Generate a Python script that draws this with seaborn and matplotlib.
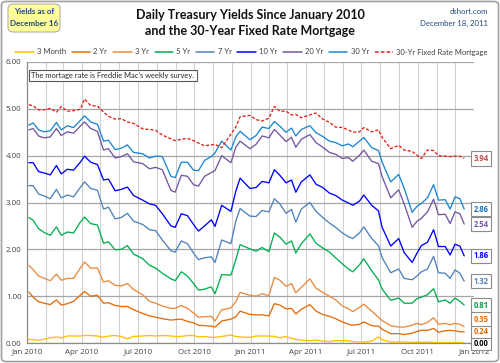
import numpy as np
import pandas as pd
import matplotlib
matplotlib.use("Agg")
import matplotlib.pyplot as plt
import matplotlib.dates as mdates
from matplotlib.patches import FancyBboxPatch
import seaborn as sns

# ---------------- data ----------------
dates = [
    "2010-01-04", "2010-01-11", "2010-01-20", "2010-01-29", "2010-02-08", "2010-02-18", "2010-02-26",
    "2010-03-08", "2010-03-18", "2010-03-29", "2010-04-05", "2010-04-15", "2010-04-26", "2010-05-06",
    "2010-05-14", "2010-05-25", "2010-06-04", "2010-06-14", "2010-06-24", "2010-07-09", "2010-07-20",
    "2010-07-30", "2010-08-10", "2010-08-24", "2010-08-31", "2010-09-10", "2010-09-20", "2010-09-30",
    "2010-10-08", "2010-10-18", "2010-10-29", "2010-11-04", "2010-11-15", "2010-11-30", "2010-12-08",
    "2010-12-15", "2010-12-31",
    "2011-01-10", "2011-01-20", "2011-01-31", "2011-02-09", "2011-02-18", "2011-02-28", "2011-03-09",
    "2011-03-16", "2011-03-25", "2011-04-08", "2011-04-18", "2011-04-29", "2011-05-10", "2011-05-20",
    "2011-05-31", "2011-06-10", "2011-06-17", "2011-06-28", "2011-07-05", "2011-07-18", "2011-07-29",
    "2011-08-04", "2011-08-18", "2011-08-31", "2011-09-09", "2011-09-22", "2011-09-30", "2011-10-07",
    "2011-10-17", "2011-10-27", "2011-11-04", "2011-11-15", "2011-11-23", "2011-12-01", "2011-12-09",
    "2011-12-16",
]

m3 = [0.08, 0.07, 0.06, 0.08, 0.11, 0.13, 0.11, 0.15, 0.15, 0.15, 0.16, 0.16, 0.15, 0.12, 0.15, 0.16,
      0.14, 0.09, 0.14, 0.15, 0.16, 0.15, 0.16, 0.15, 0.14, 0.14, 0.16, 0.16, 0.13, 0.14, 0.12, 0.12,
      0.14, 0.17, 0.14, 0.13, 0.12, 0.15, 0.15, 0.15, 0.14, 0.11, 0.14, 0.10, 0.08, 0.06, 0.05, 0.06,
      0.04, 0.03, 0.05, 0.05, 0.05, 0.03, 0.02, 0.02, 0.04, 0.13, 0.07, 0.02, 0.02, 0.02, 0.01, 0.02,
      0.01, 0.02, 0.01, 0.01, 0.01, 0.01, 0.01, 0.01, 0.00]
y2 = [1.09, 0.98, 0.88, 0.85, 0.82, 0.92, 0.81, 0.84, 0.89, 1.02, 1.10, 1.00, 1.02, 0.85, 0.86, 0.80,
      0.78, 0.78, 0.71, 0.63, 0.58, 0.55, 0.52, 0.49, 0.50, 0.51, 0.46, 0.43, 0.38, 0.37, 0.36, 0.34,
      0.47, 0.51, 0.56, 0.68, 0.61, 0.60, 0.60, 0.58, 0.84, 0.81, 0.73, 0.74, 0.62, 0.72, 0.82, 0.68,
      0.61, 0.57, 0.52, 0.45, 0.40, 0.38, 0.40, 0.45, 0.37, 0.36, 0.29, 0.20, 0.20, 0.18, 0.21, 0.25,
      0.27, 0.27, 0.31, 0.23, 0.26, 0.27, 0.26, 0.24, 0.24]
y3 = [1.66, 1.57, 1.43, 1.38, 1.33, 1.47, 1.34, 1.38, 1.38, 1.60, 1.73, 1.60, 1.60, 1.30, 1.33, 1.23,
      1.22, 1.27, 1.14, 1.03, 0.89, 0.85, 0.79, 0.74, 0.74, 0.80, 0.74, 0.64, 0.55, 0.56, 0.57, 0.47,
      0.71, 0.75, 0.88, 1.08, 1.02, 1.00, 1.05, 1.01, 1.40, 1.34, 1.21, 1.27, 1.07, 1.19, 1.37, 1.17,
      1.08, 1.00, 0.92, 0.79, 0.73, 0.67, 0.76, 0.83, 0.68, 0.55, 0.48, 0.37, 0.34, 0.34, 0.38, 0.42,
      0.39, 0.44, 0.54, 0.40, 0.42, 0.39, 0.42, 0.40, 0.35]
y5 = [2.68, 2.62, 2.44, 2.36, 2.30, 2.48, 2.30, 2.37, 2.35, 2.58, 2.69, 2.55, 2.52, 2.13, 2.16, 1.99,
      2.00, 2.08, 1.90, 1.80, 1.66, 1.60, 1.49, 1.37, 1.33, 1.52, 1.43, 1.27, 1.13, 1.15, 1.20, 1.05,
      1.46, 1.45, 1.78, 2.10, 2.01, 1.96, 2.04, 1.95, 2.35, 2.26, 2.11, 2.18, 1.92, 2.12, 2.33, 2.13,
      2.03, 1.94, 1.82, 1.69, 1.58, 1.52, 1.67, 1.80, 1.54, 1.35, 1.15, 0.91, 0.96, 0.85, 0.85, 0.95,
      0.98, 1.03, 1.16, 0.88, 0.92, 0.85, 0.96, 0.89, 0.81]
y7 = [3.36, 3.36, 3.18, 3.14, 3.08, 3.28, 3.10, 3.16, 3.12, 3.32, 3.44, 3.30, 3.26, 2.86, 2.90, 2.65,
      2.68, 2.77, 2.60, 2.53, 2.42, 2.40, 2.20, 1.97, 1.94, 2.18, 2.12, 1.92, 1.78, 1.82, 1.84, 1.72,
      2.20, 2.12, 2.60, 2.87, 2.71, 2.70, 2.83, 2.80, 3.08, 2.97, 2.77, 2.85, 2.58, 2.86, 3.00, 2.81,
      2.68, 2.56, 2.47, 2.35, 2.27, 2.23, 2.35, 2.48, 2.23, 2.08, 1.82, 1.50, 1.58, 1.38, 1.35, 1.43,
      1.52, 1.58, 1.85, 1.50, 1.49, 1.38, 1.56, 1.49, 1.32]
y10 = [3.85, 3.85, 3.66, 3.63, 3.59, 3.79, 3.61, 3.71, 3.69, 3.86, 3.99, 3.86, 3.81, 3.48, 3.50, 3.25,
       3.28, 3.33, 3.15, 3.05, 2.97, 2.94, 2.76, 2.50, 2.47, 2.76, 2.72, 2.53, 2.39, 2.50, 2.63, 2.49,
       2.94, 2.81, 3.24, 3.52, 3.30, 3.32, 3.45, 3.42, 3.70, 3.58, 3.42, 3.48, 3.22, 3.44, 3.59, 3.39,
       3.32, 3.20, 3.15, 3.05, 2.99, 2.94, 3.03, 3.16, 2.94, 2.82, 2.47, 2.07, 2.23, 1.93, 1.72, 1.92,
       2.08, 2.15, 2.42, 2.06, 2.06, 1.88, 2.11, 2.07, 1.86]
y20 = [4.55, 4.58, 4.42, 4.38, 4.40, 4.58, 4.43, 4.51, 4.48, 4.63, 4.72, 4.58, 4.52, 4.12, 4.15, 3.95,
       3.98, 4.04, 3.87, 3.83, 3.72, 3.75, 3.70, 3.26, 3.22, 3.58, 3.56, 3.38, 3.35, 3.56, 3.64, 3.68,
       4.00, 3.85, 4.18, 4.31, 4.15, 4.24, 4.42, 4.38, 4.56, 4.44, 4.30, 4.39, 4.18, 4.35, 4.45, 4.28,
       4.18, 4.07, 4.03, 3.94, 3.96, 3.88, 4.01, 4.12, 3.88, 3.83, 3.55, 3.10, 3.27, 2.97, 2.47, 2.60,
       2.66, 2.80, 3.07, 2.74, 2.75, 2.55, 2.80, 2.76, 2.54]
y30 = [4.65, 4.70, 4.55, 4.51, 4.53, 4.71, 4.55, 4.64, 4.60, 4.75, 4.85, 4.72, 4.67, 4.31, 4.33, 4.13,
       4.16, 4.23, 4.07, 4.04, 3.95, 3.99, 3.98, 3.56, 3.53, 3.86, 3.86, 3.69, 3.68, 3.90, 3.98, 4.06,
       4.31, 4.12, 4.40, 4.52, 4.34, 4.43, 4.61, 4.58, 4.73, 4.63, 4.50, 4.59, 4.42, 4.56, 4.64, 4.49,
       4.41, 4.31, 4.28, 4.21, 4.25, 4.19, 4.31, 4.39, 4.17, 4.11, 3.86, 3.44, 3.60, 3.30, 2.79, 2.92,
       2.98, 3.10, 3.38, 3.05, 3.06, 2.86, 3.12, 3.08, 2.86]
mortgage = [5.09, 5.06, 4.98, 4.98, 5.01, 4.93, 5.05, 4.95, 4.96, 4.99, 5.21, 5.07, 5.06, 4.93, 4.84, 4.78,
            4.79, 4.72, 4.69, 4.57, 4.56, 4.54, 4.44, 4.36, 4.32, 4.35, 4.37, 4.32, 4.27, 4.21, 4.23, 4.24,
            4.17, 4.46, 4.61, 4.83, 4.86, 4.77, 4.74, 4.80, 5.05, 4.95, 4.95, 4.87, 4.88, 4.81, 4.87, 4.91,
            4.78, 4.71, 4.61, 4.60, 4.55, 4.50, 4.51, 4.60, 4.51, 4.55, 4.39, 4.15, 4.22, 4.12, 4.09, 4.01,
            3.94, 4.12, 4.11, 4.00, 3.99, 3.98, 3.99, 3.99, 3.94]

series_names = ["3 Month", "2 Yr", "3 Yr", "5 Yr", "7 Yr", "10 Yr", "20 Yr", "30 Yr",
                "30-Yr Fixed Rate Mortgage"]
series_values = [m3, y2, y3, y5, y7, y10, y20, y30, mortgage]
y_ticks = [0, 1, 2, 3, 4, 5, 6]

colors = {
    "3 Month": "#FFC000", "2 Yr": "#E46C0A", "3 Yr": "#EB8A3C", "5 Yr": "#00B050",
    "7 Yr": "#4F81BD", "10 Yr": "#0000FF", "20 Yr": "#7257A0", "30 Yr": "#1B86D3",
    "30-Yr Fixed Rate Mortgage": "#E0201B",
}
label_colors = {
    "3 Month": "#000000", "2 Yr": "#E46C0A", "3 Yr": "#E46C0A", "5 Yr": "#00A04A",
    "7 Yr": "#4F81BD", "10 Yr": "#0000FF", "20 Yr": "#7257A0", "30 Yr": "#1B76C3",
    "30-Yr Fixed Rate Mortgage": "#C0504D",
}

frames = []
for name, vals in zip(series_names, series_values):
    frames.append(pd.DataFrame({"date": pd.to_datetime(dates), "value": vals, "series": name}))
df = pd.concat(frames, ignore_index=True)

# ---------------- plot ----------------
sns.set_theme(style="white")
plt.rcParams["font.family"] = ["Lato", "DejaVu Sans"]
NUMFONT = ["Open Sans", "DejaVu Sans"]

fig = plt.figure(figsize=(5.0, 3.63), dpi=100)
fig.patch.set_facecolor("white")
ax = fig.add_axes([27 / 500, 1 - 343 / 363, 447 / 500, 281 / 363])

dashes = {n: "" for n in series_names}
dashes["30-Yr Fixed Rate Mortgage"] = (2.4, 1.4)
sns.lineplot(data=df, x="date", y="value", hue="series", style="series",
             hue_order=series_names, style_order=series_names,
             palette=colors, dashes=dashes, linewidth=0.95, ax=ax)

ax.set_xlim(pd.Timestamp("2010-01-01"), pd.Timestamp("2012-01-01"))
ax.set_ylim(0, 6)
ax.set_yticks(y_ticks)
ax.set_yticklabels([f"{t:.2f}" for t in y_ticks])
ax.xaxis.set_major_locator(mdates.MonthLocator(bymonth=[1, 4, 7, 10]))
ax.xaxis.set_major_formatter(mdates.DateFormatter("%b %Y"))
ax.xaxis.set_minor_locator(mdates.MonthLocator())
ax.tick_params(axis="both", length=0, labelsize=5.7, labelcolor="#404040", pad=4)
for lab in ax.get_xticklabels() + ax.get_yticklabels():
    lab.set_family(NUMFONT)
ax.set_xlabel("")
ax.set_ylabel("")
ax.grid(axis="y", color="#A6A6A6", lw=0.9)
ax.grid(axis="x", which="both", color="#D0D0D0", lw=0.8)
ax.set_axisbelow(True)
for s in ["top", "right"]:
    ax.spines[s].set_visible(False)
for s in ["left", "bottom"]:
    ax.spines[s].set_color("#8C8C8C")
    ax.spines[s].set_linewidth(0.9)

# legend in one row
sns.move_legend(ax, "center", bbox_to_anchor=(0.503, 1 - 52 / 363), bbox_transform=fig.transFigure,
                ncol=9, frameon=False, title=None, fontsize=5.5, handlelength=2.4,
                handletextpad=0.4, columnspacing=0.8)
for t in ax.get_legend().get_texts():
    t.set_color("#404040")
for h in ax.get_legend().get_lines():
    h.set_linewidth(1.1)

# end-value labels with simple vertical de-overlap (in pixels)
last_vals = [(v[-1], n) for n, v in zip(series_names, series_values)]
last_vals.sort()
trans = ax.transData
prev_px = None
for val, name in last_vals:
    ypx = trans.transform((0, val))[1]
    if prev_px is not None and ypx < prev_px + 12:
        ypx = prev_px + 12
    prev_px = ypx
    yfig = ypx / fig.dpi / fig.get_figheight()
    fig.text(481 / 500, yfig, f"{val:.2f}", ha="center", va="center", fontsize=5.5,
             fontweight="bold", color=label_colors[name], family=NUMFONT,
             bbox=dict(boxstyle="square,pad=0.35", fc="white", ec="#8C8C8C", lw=0.8))

# titles
fig.text(0.5, 1 - 15 / 363, "Daily Treasury Yields Since January 2010", ha="center", va="center",
         fontsize=9, fontweight="bold", color="#111111")
fig.text(0.5, 1 - 31 / 363, "and the 30-Year Fixed Rate Mortgage", ha="center", va="center",
         fontsize=9, fontweight="bold", color="#111111")
fig.text(488 / 500, 1 - 11 / 363, "dshort.com", ha="right", va="center", fontsize=5.6,
         color="#1F497D")
fig.text(488 / 500, 1 - 23 / 363, "December 18, 2011", ha="right", va="center", fontsize=5.6,
         color="#1F497D")

# yellow box top left
box = FancyBboxPatch((8 / 500, 1 - 32 / 363), 52 / 500, 28 / 363,
                     boxstyle="round,pad=0,rounding_size=0.012", transform=fig.transFigure,
                     fc="#FFFF99", ec="#B0B0B0", lw=0.8)
fig.patches.append(box)
fig.text(34 / 500, 1 - 12 / 363, "Yields as of", ha="center", va="center", fontsize=5.8,
         fontweight="bold", color="#1F497D")
fig.text(34 / 500, 1 - 23 / 363, "December 16", ha="center", va="center", fontsize=5.8,
         fontweight="bold", color="#1F497D")

# note box inside plot
ax.text(0.01, 0.965, "The mortage rate is Freddie Mac\u2019s weekly survey.", transform=ax.transAxes,
        ha="left", va="top", fontsize=5.4, color="#262626",
        bbox=dict(boxstyle="square,pad=0.3", fc="white", ec="#595959", lw=0.8))

# outer frame
frame = FancyBboxPatch((0.003, 0.004), 0.994, 0.992, boxstyle="round,pad=0,rounding_size=0.01",
                       transform=fig.transFigure, fc="none", ec="#A0A0A0", lw=1.2)
fig.patches.append(frame)

fig.savefig("out.png", dpi=100)
